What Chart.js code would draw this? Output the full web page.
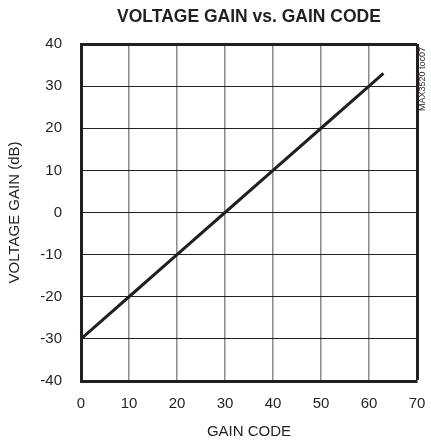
<!DOCTYPE html>
<html>
<head>
<meta charset="utf-8">
<script src="https://cdn.jsdelivr.net/npm/chart.js@4"></script>
<style>
  html, body { margin: 0; padding: 0; background: #fff; }
  canvas { display: block; }
</style>
</head>
<body>
<canvas id="chart-gain" width="431" height="445"></canvas>
<script>
// gain code vs voltage gain
const gain_codes = [0, 10, 20, 30, 40, 50, 60, 63];
const gain_db = [-30, -20, -10, 0, 10, 20, 30, 33];

const x_ticks = [0, 10, 20, 30, 40, 50, 60, 70];
const y_ticks = [-40, -30, -20, -10, 0, 10, 20, 30, 40];

const ink = '#231f20';
const font_family = "'Liberation Sans', Arial, sans-serif";

// small vertical tag on the right side of the plot
const tocLabel = {
    id: 'tocLabel',
    afterDraw(chart) {
        const ctx = chart.ctx;
        ctx.save();
        ctx.translate(chart.chartArea.right + 6, chart.chartArea.top + 35);
        ctx.rotate(-Math.PI / 2);
        ctx.font = '9px ' + font_family;
        ctx.fillStyle = ink;
        ctx.textAlign = 'center';
        ctx.textBaseline = 'middle';
        ctx.fillText('MAX3520 toc07', 0, 0);
        ctx.restore();
    }
};

let chart_gain = document.getElementById('chart-gain');

new Chart(chart_gain, {
    type: 'line',
    data: {
        datasets: [
            {
                label: 'Voltage gain',
                data: gain_codes.map((c, i) => ({ x: c, y: gain_db[i] })),
                borderColor: ink,
                borderWidth: 3,
                pointRadius: 0,
                tension: 0,
                fill: false,
            }
        ]
    },
    options: {
        responsive: false,
        animation: false,
        layout: {
            padding: { left: 0, right: 14, top: 0, bottom: 0 }
        },
        plugins: {
            legend: { display: false },
            tooltip: { enabled: false },
            title: {
                display: true,
                fullSize: false,
                text: 'VOLTAGE GAIN vs. GAIN CODE',
                color: ink,
                font: { family: font_family, size: 17.5, weight: 'bold' },
                padding: { top: 7, bottom: 16 },
            }
        },
        scales: {
            x: {
                type: 'linear',
                min: 0,
                max: 70,
                afterBuildTicks: axis => { axis.ticks = x_ticks.map(v => ({ value: v })); },
                afterFit: axis => {
                    axis.height = 64;
                    axis.paddingLeft = 0;
                    axis.paddingRight = 0;
                },
                ticks: {
                    color: ink,
                    padding: 14,
                    maxRotation: 0,
                    font: { family: font_family, size: 15 },
                },
                grid: {
                    drawTicks: false,
                    color: ctx => ctx.tick && ctx.tick.value === 70 ? ink : '#8a8a8a',
                    lineWidth: ctx => ctx.tick && ctx.tick.value === 70 ? 3 : 1.5,
                },
                border: { color: ink, width: 3 },
                title: {
                    display: true,
                    text: 'GAIN CODE',
                    color: ink,
                    font: { family: font_family, size: 15 },
                    padding: { top: 0, bottom: 4 },
                }
            },
            y: {
                type: 'linear',
                min: -40,
                max: 40,
                afterBuildTicks: axis => { axis.ticks = y_ticks.map(v => ({ value: v })); },
                afterFit: axis => {
                    axis.width = 81;
                    axis.paddingTop = 0;
                    axis.paddingBottom = 0;
                },
                ticks: {
                    color: ink,
                    padding: 19,
                    font: { family: font_family, size: 15 },
                },
                grid: {
                    drawTicks: false,
                    color: ink,
                    lineWidth: ctx => ctx.tick && ctx.tick.value === 40 ? 3 : 1,
                },
                border: { color: ink, width: 3 },
                title: {
                    display: true,
                    text: 'VOLTAGE GAIN (dB)',
                    color: ink,
                    font: { family: font_family, size: 15 },
                    padding: { top: 6, bottom: 0 },
                }
            }
        }
    },
    plugins: [tocLabel]
});
</script>
</body>
</html>
